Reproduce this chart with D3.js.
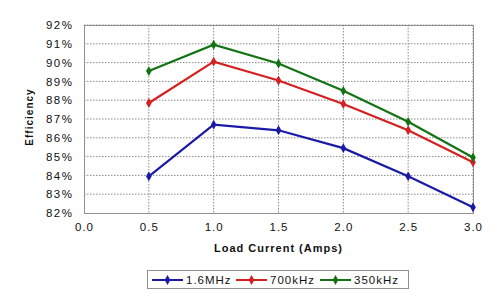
<!DOCTYPE html>
<html><head><meta charset="utf-8">
<script src="https://cdn.jsdelivr.net/npm/d3@7"></script>
<style>body{margin:0;background:#fff}svg{display:block}</style>
</head><body>
<script>
const loads = [0.5, 1.0, 1.5, 2.0, 2.5, 3.0];
const seriesNames = ["1.6MHz", "700kHz", "350kHz"];
const eff16MHz = [83.95, 86.7, 86.4, 85.45, 83.95, 82.3];
const eff700kHz = [87.85, 90.05, 89.05, 87.8, 86.4, 84.7];
const eff350kHz = [89.55, 90.95, 89.95, 88.5, 86.85, 84.95];
const xTicks = [0.0, 0.5, 1.0, 1.5, 2.0, 2.5, 3.0];
const yTicks = [82, 83, 84, 85, 86, 87, 88, 89, 90, 91, 92];
const colors = ["#1a1aa6", "#d42020", "#137313"];
const seriesVals = [eff16MHz, eff700kHz, eff350kHz];

const W = 500, H = 298;
const L = 84, R = 473, T = 25, B = 213;
const svg = d3.select("body").append("svg").attr("width", W).attr("height", H);
const x = d3.scaleLinear().domain([0, 3]).range([L, R]);
const y = d3.scaleLinear().domain([82, 92]).range([B, T]);
const font = "'Liberation Sans', Arial, sans-serif";

// grid
svg.append("g").selectAll("line.h").data(yTicks.slice(1)).join("line")
  .attr("x1", L).attr("x2", R).attr("y1", d => y(d)).attr("y2", d => y(d))
  .attr("stroke", "#8a8a8a").attr("stroke-width", 1).attr("stroke-dasharray", "1.5,1.5");
svg.append("g").selectAll("line.v").data(xTicks.slice(1)).join("line")
  .attr("x1", d => x(d)).attr("x2", d => x(d)).attr("y1", T).attr("y2", B)
  .attr("stroke", "#8a8a8a").attr("stroke-width", 1).attr("stroke-dasharray", "1.5,1.5");
// border
svg.append("rect").attr("x", L + 0.5).attr("y", T + 0.5).attr("width", R - L).attr("height", B - T)
  .attr("fill", "none").attr("stroke", "#909090").attr("stroke-width", 1);

// axes
const yAxis = d3.axisLeft(y).tickValues(yTicks).tickFormat(d => d + "%").tickSize(0).tickPadding(10.5);
const gy = svg.append("g").attr("transform", `translate(${L},0)`).call(yAxis);
gy.select(".domain").remove();
gy.selectAll("text").attr("font-family", font).attr("font-size", 11.5).attr("letter-spacing", 1.5).attr("fill", "#111");
const xAxis = d3.axisBottom(x).tickValues(xTicks).tickFormat(d3.format(".1f")).tickSize(0).tickPadding(10);
const gx = svg.append("g").attr("transform", `translate(0,${B})`).call(xAxis);
gx.select(".domain").remove();
gx.selectAll("text").attr("font-family", font).attr("font-size", 11.5).attr("letter-spacing", 1).attr("fill", "#111");

// axis titles
svg.append("text").attr("x", (L + R) / 2).attr("y", 252).attr("text-anchor", "middle")
  .attr("font-family", font).attr("font-size", 11).attr("letter-spacing", 1).attr("font-weight", "bold").attr("fill", "#111")
  .text("Load Current (Amps)");
svg.append("text").attr("transform", `translate(33,117) rotate(-90)`).attr("text-anchor", "middle")
  .attr("font-family", font).attr("font-size", 10).attr("letter-spacing", 1).attr("font-weight", "bold").attr("fill", "#111")
  .text("Efficiency");

// series
const line = d3.line().x((d, i) => x(loads[i])).y(d => y(d));
const diamond = d3.symbol().type(d3.symbolDiamond).size(28);
seriesVals.forEach((vals, k) => {
  svg.append("path").datum(vals).attr("d", line).attr("fill", "none")
    .attr("stroke", colors[k]).attr("stroke-width", 2.2);
  svg.append("g").selectAll("path").data(vals).join("path")
    .attr("d", diamond).attr("transform", (d, i) => `translate(${x(loads[i])},${y(d)})`)
    .attr("fill", colors[k]);
});

// legend
const lg = svg.append("g");
lg.append("rect").attr("x", 147.5).attr("y", 270.5).attr("width", 261).attr("height", 18)
  .attr("fill", "#fff").attr("stroke", "#909090");
const lx = [152, 236, 320];
seriesNames.forEach((n, k) => {
  lg.append("line").attr("x1", lx[k]).attr("x2", lx[k] + 31).attr("y1", 280).attr("y2", 280)
    .attr("stroke", colors[k]).attr("stroke-width", 2);
  lg.append("path").attr("d", diamond).attr("transform", `translate(${lx[k] + 15.5},280)`).attr("fill", colors[k]);
  lg.append("text").attr("x", lx[k] + 34).attr("y", 284).attr("font-family", font).attr("font-size", 11.5)
    .attr("letter-spacing", 1).attr("fill", "#111").text(n);
});
</script>
</body></html>
